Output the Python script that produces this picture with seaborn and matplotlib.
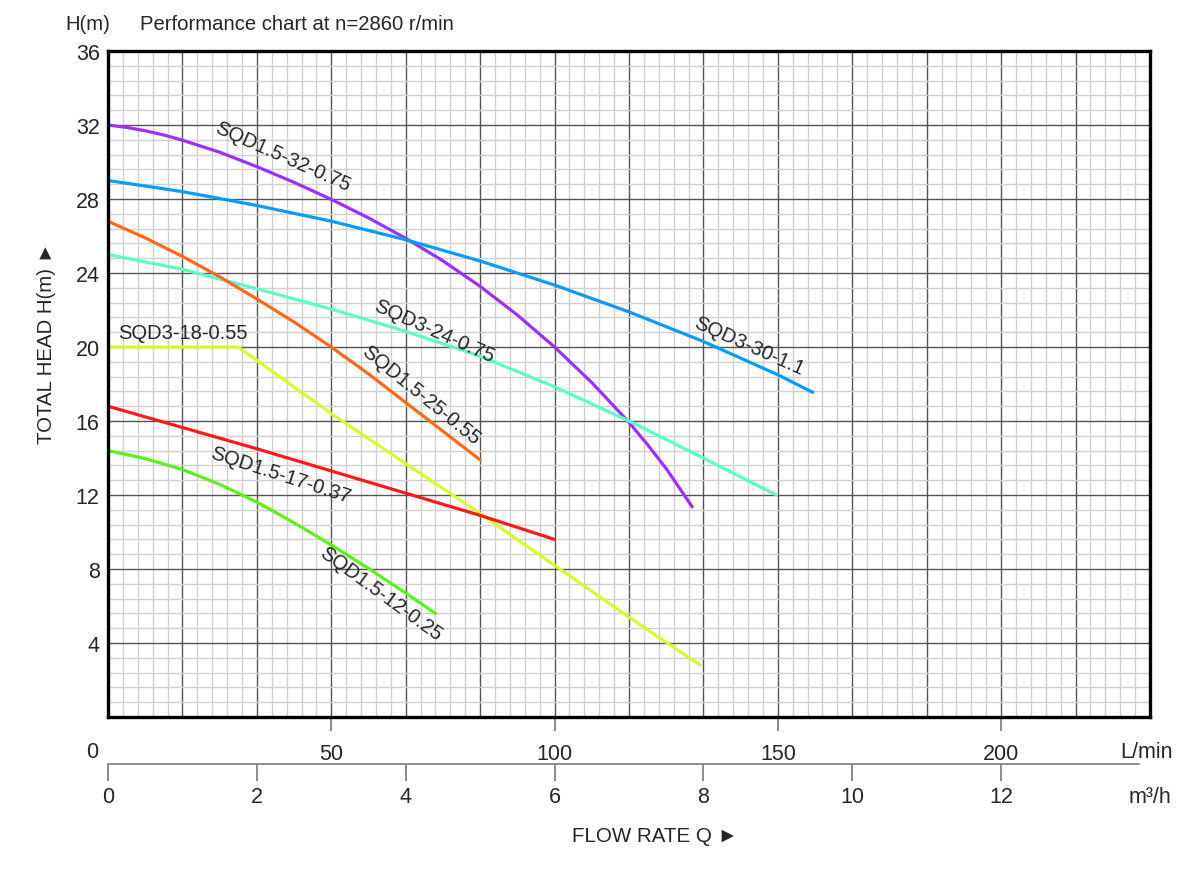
import numpy as np
import pandas as pd
import matplotlib
matplotlib.use("Agg")
import matplotlib.pyplot as plt
import seaborn as sns

# Performance curves, flow in m3/h, head in m
q_32 = [0, 0.25, 0.5, 0.75, 1, 1.5, 2, 2.5, 3, 3.5, 4, 4.5, 5, 5.5, 6, 6.5, 7, 7.25,
        7.5, 7.85]
h_32 = [32, 31.87, 31.69, 31.46, 31.18, 30.53, 29.75, 28.9, 27.98, 26.98, 25.88,
        24.66, 23.28, 21.73, 20.0, 18.08, 15.93, 14.72, 13.43, 11.36]

q_30 = [0, 1, 2, 3, 4, 5, 6, 7, 8, 9, 9.47]
h_30 = [29.0, 28.4, 27.65, 26.8, 25.8, 24.65, 23.35, 21.9, 20.3, 18.5, 17.55]

q_24 = [0, 1, 2, 3, 4, 5, 6, 7, 8, 8.98]
h_24 = [25.0, 24.2, 23.15, 22.05, 20.85, 19.5, 17.85, 16.0, 14.0, 12.0]

q_25 = [0, 0.5, 1, 1.5, 2, 2.5, 3, 3.5, 4, 4.5, 5]
h_25 = [26.8, 25.9, 24.9, 23.8, 22.6, 21.35, 20.0, 18.55, 17.0, 15.45, 13.9]

q_18 = [0, 1.75, 3, 4, 5, 6, 7, 7.96]
h_18 = [20, 20, 16.4, 13.7, 11.0, 8.2, 5.4, 2.8]

q_17 = [0, 1, 2, 3, 4, 5, 6]
h_17 = [16.8, 15.65, 14.5, 13.3, 12.1, 10.9, 9.6]

q_12 = [0, 0.5, 1, 1.5, 2, 2.5, 3, 3.5, 4, 4.4]
h_12 = [14.4, 13.97, 13.38, 12.58, 11.62, 10.5, 9.3, 8.03, 6.7, 5.6]

models = ["SQD1.5-32-0.75", "SQD3-30-1.1", "SQD3-24-0.75", "SQD1.5-25-0.55",
          "SQD3-18-0.55", "SQD1.5-17-0.37", "SQD1.5-12-0.25"]
colors = ["#9b30ff", "#0a9bff", "#5effc4", "#ff6a1a", "#d2ff2e", "#ff1a1a", "#5ef01a"]
curves = [(q_32, h_32), (q_30, h_30), (q_24, h_24), (q_25, h_25),
          (q_18, h_18), (q_17, h_17), (q_12, h_12)]

# label placement (x, y, rotation)
label_pos = [(2.35, 30.3, -24), (8.62, 20.1, -24), (4.38, 20.9, -24),
             (4.2, 17.45, -39), (0.13, 20.8, 0), (2.32, 13.1, -18), (3.66, 6.7, -36)]

lmin_ticks = [50, 100, 150, 200]
m3h_ticks = [0, 2, 4, 6, 8, 10, 12]
head_ticks = [4, 8, 12, 16, 20, 24, 28, 32, 36]

sns.set_style("white")
plt.rcParams["font.family"] = ["Liberation Sans", "DejaVu Sans"]

fig = plt.figure(figsize=(12, 8.7), dpi=100)
ax = fig.add_axes([0.09, 0.1747, 0.8683, 0.7655])

for (q, h), name, col in zip(curves, models, colors):
    df = pd.DataFrame({"Q": q, "H": h})
    sns.lineplot(data=df, x="Q", y="H", color=col, linewidth=2.3, ax=ax,
                 sort=False, estimator=None, zorder=5)

for name, (lx, ly, rot) in zip(models, label_pos):
    ha = "left" if rot == 0 else "center"
    ax.text(lx, ly, name, fontsize=14.5, rotation=rot, rotation_mode="anchor",
            ha=ha, va="center", zorder=6)

ax.set_xlim(0, 14)
ax.set_ylim(0, 36)
ax.set_xticks(np.arange(0, 14.01, 1))
ax.set_xticks(np.arange(0, 14.01, 0.2), minor=True)
ax.set_yticks(head_ticks)
ax.set_yticks(np.arange(0, 36.01, 0.8), minor=True)
ax.grid(which="minor", color="#d0d0d0", linewidth=1.0, zorder=0)
ax.grid(which="major", color="#555555", linewidth=1.0, zorder=1)
ax.set_axisbelow(True)
ax.tick_params(axis="x", which="both", length=0, labelbottom=False)
ax.tick_params(axis="y", which="both", length=0, labelsize=15.5, pad=6)
ax.set_xlabel("")
ax.set_ylabel("")
for sp in ax.spines.values():
    sp.set_visible(True)
    sp.set_color("black")
    sp.set_linewidth(2.4)
    sp.set_zorder(10)

to_lmin = (lambda x: x * 1000 / 60, lambda x: x * 60 / 1000)
sec1 = ax.secondary_xaxis("bottom", functions=to_lmin)
sec1.set_xticks(lmin_ticks)
sec1.tick_params(length=10, width=1.2, color="#777777", labelsize=15.5, pad=9)
sec1.spines["bottom"].set_visible(False)

sec2 = ax.secondary_xaxis(-0.0706)
sec2.set_xticks(m3h_ticks)
sec2.tick_params(length=12, width=1.2, color="#777777", labelsize=15.5, pad=4)
sec2.spines["bottom"].set_color("#888888")
sec2.spines["bottom"].set_linewidth(1.3)
sec2.spines["bottom"].set_bounds(0, 13.85)

fig.text(0.0767, 0.1356, "0", fontsize=15.5, ha="center", va="center")
fig.text(0.955, 0.1356, "L/min", fontsize=15.5, ha="center", va="center")
fig.text(0.958, 0.0828, "m³/h", fontsize=15.5, ha="center", va="center")
fig.text(0.546, 0.039, "FLOW RATE Q ►", fontsize=14.8, ha="center", va="center")
fig.text(0.0733, 0.972, "H(m)", fontsize=14.6, ha="center", va="center")
fig.text(0.1167, 0.972, "Performance chart at n=2860 r/min", fontsize=14.6,
         ha="left", va="center")
fig.text(0.0385, 0.606, "TOTAL HEAD H(m) ►", fontsize=14.7, rotation=90,
         ha="center", va="center")

fig.savefig("out.png", dpi=100)
